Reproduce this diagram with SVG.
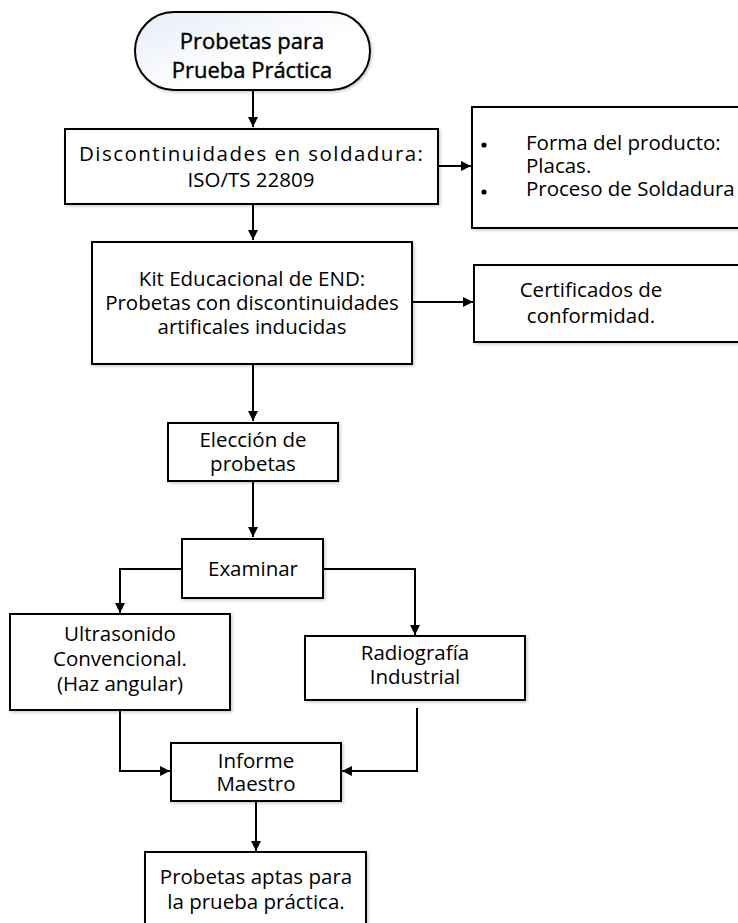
<svg xmlns="http://www.w3.org/2000/svg" width="738" height="923" viewBox="0 0 738 923">
<style>
.box{fill:#fff;stroke:#000;stroke-width:2;filter:url(#sh)}
.t{font-family:"Open Sans","DejaVu Sans",sans-serif;font-size:20.5px;fill:#000;text-anchor:middle}
.tl{font-family:"Open Sans","DejaVu Sans",sans-serif;font-size:20.5px;fill:#000}
.tb{font-family:"Open Sans","DejaVu Sans",sans-serif;font-size:22px;font-weight:500;fill:#000;stroke:#000;stroke-width:0.4;text-anchor:middle}
.c{fill:none;stroke:#000;stroke-width:2;marker-end:url(#ah)}
</style>
<defs>
<marker id="ah" viewBox="0 0 10 10" refX="10" refY="5" markerWidth="5" markerHeight="5" orient="auto" markerUnits="strokeWidth">
<path d="M0,0 L10,5 L0,10 z" fill="#000"/>
</marker>
<linearGradient id="g" x1="0" y1="0" x2="1" y2="1">
<stop offset="0" stop-color="#e6ecf7"/>
<stop offset="0.6" stop-color="#ffffff"/>
</linearGradient>
<filter id="sh" x="-10%" y="-10%" width="130%" height="130%">
<feDropShadow dx="1.5" dy="1.5" stdDeviation="1.5" flood-color="#000" flood-opacity="0.2"/>
</filter>
</defs>
<rect width="738" height="923" fill="#fff"/>
<g id="connectors">
<path class="c" d="M253,90 V127"/>
<path class="c" d="M438,166 H471"/>
<path class="c" d="M253,204 V240"/>
<path class="c" d="M412,302 H473"/>
<path class="c" d="M253,364 V421"/>
<path class="c" d="M253,481 V537"/>
<path class="c" d="M182,569 H120 V613"/>
<path class="c" d="M323,569 H415 V635"/>
<path class="c" d="M120,710 V771 H170"/>
<path class="c" d="M417,708 V771 H342"/>
<path class="c" d="M256,801 V851"/>
</g>
<g id="start">
<rect x="135" y="12" width="235" height="78" rx="39" fill="url(#g)" stroke="#000" stroke-width="2" filter="url(#sh)"/>
<text class="tb" x="252" y="49">Probetas para</text>
<text class="tb" x="252" y="78">Prueba Práctica</text>
</g>
<g id="discontinuidades">
<rect class="box" x="65" y="129" width="373" height="75"/>
<text class="t" x="251" y="161" textLength="344" lengthAdjust="spacing">Discontinuidades en soldadura:</text>
<text class="t" x="251" y="187">ISO/TS 22809</text>
</g>
<g id="forma">
<rect class="box" x="472" y="107" width="280" height="121"/>
<circle cx="484" cy="145" r="2.6" fill="#000"/>
<circle cx="484" cy="192" r="2.6" fill="#000"/>
<text class="tl" x="526" y="150">Forma del producto:</text>
<text class="tl" x="526" y="173">Placas.</text>
<text class="tl" x="526" y="196">Proceso de Soldadura</text>
</g>
<g id="kit">
<rect class="box" x="92" y="242" width="320" height="122"/>
<text class="t" x="252" y="286">Kit Educacional de END:</text>
<text class="t" x="252" y="310">Probetas con discontinuidades</text>
<text class="t" x="252" y="334">artificales inducidas</text>
</g>
<g id="certificados">
<rect class="box" x="474" y="265" width="280" height="77"/>
<text class="t" x="591" y="297">Certificados de</text>
<text class="t" x="591" y="323">conformidad.</text>
</g>
<g id="eleccion">
<rect class="box" x="168" y="423" width="170" height="58"/>
<text class="t" x="253" y="447">Elección de</text>
<text class="t" x="253" y="471">probetas</text>
</g>
<g id="examinar">
<rect class="box" x="182" y="539" width="141" height="59"/>
<text class="t" x="253" y="576">Examinar</text>
</g>
<g id="ultrasonido">
<rect class="box" x="10" y="614" width="220" height="96"/>
<text class="t" x="120" y="641">Ultrasonido</text>
<text class="t" x="120" y="666">Convencional.</text>
<text class="t" x="120" y="691">(Haz angular)</text>
</g>
<g id="radiografia">
<rect class="box" x="305" y="636" width="220" height="64"/>
<text class="t" x="415" y="660">Radiografía</text>
<text class="t" x="415" y="684">Industrial</text>
</g>
<g id="informe">
<rect class="box" x="171" y="743" width="170" height="58"/>
<text class="t" x="256" y="768">Informe</text>
<text class="t" x="256" y="791">Maestro</text>
</g>
<g id="aptas">
<rect class="box" x="145" y="852" width="221" height="80"/>
<text class="t" x="256" y="884">Probetas aptas para</text>
<text class="t" x="256" y="909">la prueba práctica.</text>
</g>
</svg>
